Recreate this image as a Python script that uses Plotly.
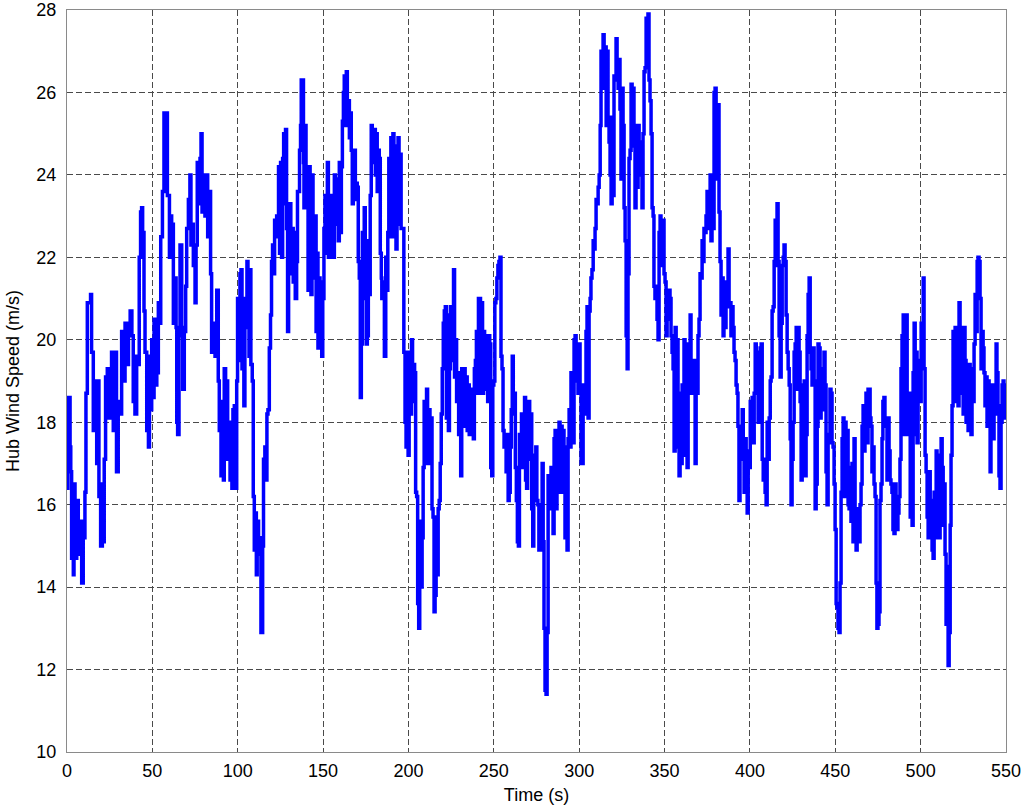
import plotly.graph_objects as go

# hub wind speed (m/s), as (time s, speed) pairs
seg_000_045 = [
    (0, 16.4), (0.5, 17.9), (1, 18.6), (1.8, 17.4), (2.2, 16.8), (2.7, 14.7), (3.7, 14.3), (4.1, 16.5),
    (4.7, 14.7), (5.7, 16.1), (6.6, 14.8), (7.6, 15.6), (8.6, 14.1), (9.5, 15.2), (10.5, 16.3), (11.1, 18.7),
    (11.9, 20.9), (13.8, 21.1), (14.4, 19.7), (15.4, 17.8), (16.4, 19.0), (17.4, 17.0), (18.0, 19.0), (18.7, 16.2),
    (19.7, 15.0), (20.7, 16.5), (21.3, 15.1), (21.8, 17.1), (22.6, 19.1), (23.6, 19.3), (24.6, 18.1), (25.2, 19.3),
    (26.1, 19.7), (27.1, 17.8), (28.1, 19.7), (29.0, 16.8), (30.0, 18.5), (31.0, 18.2), (32.0, 20.2), (33.0, 19.0),
    (34.0, 20.4), (35.0, 19.4), (36.0, 20.3), (37.0, 20.7), (38.0, 20.1), (38.8, 18.5), (39.8, 18.2), (40.8, 19.6),
    (41.7, 19.4), (42.3, 22.0), (43.1, 23.1), (43.7, 23.2), (44.3, 22.6),
]
seg_045_090 = [
    (45.1, 20.7), (45.7, 19.7), (46.7, 17.8), (47.7, 17.4), (48.3, 19.6), (49.0, 18.3), (49.6, 20.0), (50.2, 18.6),
    (51.0, 20.5), (51.6, 18.9), (52.6, 19.2), (53.5, 20.9), (54.5, 20.4), (54.9, 22.5), (55.9, 23.6), (56.8, 25.5),
    (58.0, 25.5), (58.8, 23.5), (60.0, 22.0), (60.4, 23.0), (61.3, 22.0), (61.7, 22.8), (62.3, 20.4), (63.3, 21.5),
    (63.9, 20.3), (64.3, 18.0), (64.8, 17.7), (65.6, 20.1), (66.2, 22.3), (67.2, 20.3), (67.8, 18.8), (68.7, 20.2),
    (69.5, 21.3), (70.1, 22.7), (71.1, 23.4), (72.0, 24.0), (72.6, 22.3), (73.4, 22.8), (74.0, 21.8), (75.0, 20.9),
    (75.6, 22.3), (76.3, 24.3), (76.9, 23.3), (77.9, 24.4), (78.5, 25.0), (79.1, 23.1), (79.9, 24.0), (80.8, 23.0),
    (81.4, 24.0), (82.4, 22.5), (83.2, 23.6), (84.1, 21.6), (84.7, 19.7), (85.3, 20.1), (86.1, 20.4), (86.7, 19.6),
    (87.7, 21.2), (88.6, 19.0), (89.2, 17.8),
]
seg_090_137 = [
    (89.6, 18.5), (90.2, 16.7), (91.0, 18.3), (91.6, 16.6), (92.1, 19.3), (92.9, 18.2), (93.5, 19.0), (94.1, 17.1),
    (94.9, 18.0), (95.5, 16.6), (96.0, 17.6), (96.6, 16.4), (97.2, 18.3), (98.0, 18.4), (98.8, 16.4), (99.4, 19.0),
    (99.9, 21.0), (100.7, 19.5), (101.3, 21.6), (101.9, 21.7), (102.5, 19.3), (103.3, 21.0), (103.6, 18.4), (104.2, 20.3),
    (104.8, 20.8), (105.4, 21.9), (106.0, 21.2), (106.6, 19.6), (107.2, 21.7), (107.7, 19.4), (108.5, 19.0), (109.1, 16.2),
    (109.7, 14.9), (110.3, 15.8), (110.9, 14.3), (111.4, 15.6), (112.2, 14.8), (113.0, 15.2), (113.6, 12.9), (114.2, 12.9),
    (114.6, 15.0), (115.1, 17.1), (115.9, 17.4), (116.5, 16.6), (117.1, 18.2), (117.7, 18.3), (118.5, 19.8), (119.2, 20.6),
    (119.8, 21.9), (120.4, 22.3), (121.0, 21.6), (121.6, 22.9), (122.2, 22.5), (122.8, 23.0), (123.3, 22.6), (123.9, 24.2),
    (124.5, 22.1), (125.1, 24.3), (125.7, 22.0), (126.3, 24.4), (126.9, 25.0), (127.4, 23.3), (128.0, 25.1), (128.6, 22.7),
    (129.2, 20.2), (129.8, 22.7), (130.6, 23.3), (131.1, 21.6), (131.7, 22.7), (132.5, 21.4), (133.1, 22.6), (133.7, 21.0),
    (134.5, 21.9), (135.0, 23.6), (135.6, 23.6), (136.2, 24.6), (136.8, 25.2), (137.2, 26.3),
]
seg_138_184 = [
    (138.5, 24.3), (138.8, 23.2), (139.4, 25.2), (140.0, 23.3), (140.6, 24.1), (141.2, 21.2), (141.8, 24.2), (142.4, 22.8),
    (142.9, 21.1), (143.5, 24.0), (144.1, 22.3), (144.7, 21.5), (145.3, 23.0), (145.9, 20.2), (146.4, 22.1), (147.0, 19.8),
    (147.6, 21.5), (148.2, 21.4), (148.6, 20.5), (149.2, 19.6), (149.8, 21.0), (150.5, 22.7), (151.1, 23.5), (151.7, 22.1),
    (152.5, 24.3), (153.1, 22.0), (153.7, 23.2), (154.2, 22.0), (154.8, 23.5), (155.4, 22.8), (156.0, 22.0), (156.6, 24.0),
    (157.2, 22.8), (157.8, 23.9), (158.3, 23.5), (158.9, 22.4), (159.5, 24.3), (160.1, 22.6), (160.7, 24.2), (161.3, 25.3),
    (161.9, 26.0), (162.4, 26.4), (163.0, 25.2), (163.6, 26.5), (164.2, 25.2), (164.8, 25.8), (165.4, 24.9), (165.9, 25.5),
    (166.5, 24.6), (167.1, 23.3), (167.7, 24.6), (168.3, 24.6), (168.9, 23.4), (169.5, 23.8), (170.0, 23.7), (170.6, 21.9),
    (171.2, 21.5), (171.8, 18.6), (172.4, 19.9), (173.0, 22.6), (173.6, 21.2), (174.1, 23.2), (174.7, 21.0), (175.3, 19.9),
    (175.9, 20.1), (176.5, 22.4), (177.1, 21.1), (177.6, 23.5), (178.2, 25.2), (178.8, 25.1), (179.4, 24.3), (180.0, 25.1),
    (180.6, 24.0), (181.2, 25.0), (181.7, 23.6), (182.3, 24.6), (182.9, 24.4), (183.5, 22.1), (184.1, 21.5),
]
seg_184_230 = [
    (184.4, 21.0), (185.4, 21.4), (185.9, 19.6), (186.7, 22.0), (187.3, 21.2), (187.9, 22.6), (188.5, 24.4), (189.1, 22.5),
    (189.7, 24.9), (190.3, 23.0), (190.9, 25.0), (191.5, 22.5), (192.1, 24.7), (192.7, 22.2), (193.3, 23.5), (193.9, 24.9),
    (194.5, 22.8), (195.1, 24.5), (195.7, 22.7), (196.5, 22.7), (197.3, 19.7), (198.0, 18.0), (198.6, 17.4), (199.2, 19.7),
    (199.8, 17.2), (200.4, 18.7), (201.2, 18.2), (201.8, 20.0), (202.4, 18.5), (203.0, 19.4), (203.6, 19.2), (204.2, 16.3),
    (204.8, 16.2), (205.4, 13.6), (206.0, 13.0), (206.6, 15.6), (207.4, 14.0), (208.0, 15.2), (208.6, 16.9), (209.2, 18.5),
    (210.0, 17.0), (210.6, 18.8), (211.2, 17.0), (212.0, 18.3), (212.6, 17.0), (213.2, 18.1), (213.8, 15.9), (214.4, 15.7),
    (215.0, 13.4), (215.6, 13.8), (216.2, 15.7), (216.8, 14.3), (217.4, 15.9), (218.0, 16.1), (218.6, 17.0), (219.2, 18.2),
    (219.8, 19.3), (220.4, 20.4), (221.0, 20.7), (221.6, 20.8), (222.2, 18.1), (222.8, 20.6), (223.4, 17.8), (224.0, 19.3),
    (224.6, 20.8), (225.2, 19.5), (225.8, 20.1), (226.4, 21.7), (227.0, 19.1), (227.6, 20.0), (228.2, 18.5), (228.8, 19.2),
    (229.4, 17.7), (230.0, 18.9),
]
seg_230_277 = [
    (230.6, 16.7), (231.2, 19.3), (231.8, 17.9), (232.6, 19.3), (233.2, 18.8), (233.8, 19.1), (234.4, 17.8), (235.0, 18.9),
    (235.6, 17.7), (236.2, 18.8), (236.8, 17.7), (237.4, 18.7), (238.0, 17.6), (238.6, 19.3), (239.2, 19.5), (239.8, 20.2),
    (240.4, 18.7), (241.0, 21.0), (241.6, 21.0), (242.2, 18.7), (242.8, 20.9), (243.4, 18.7), (244.0, 20.2), (244.6, 18.8),
    (245.2, 20.1), (245.8, 20.0), (246.4, 18.5), (247.0, 20.1), (247.6, 19.9), (248.2, 16.9), (248.8, 16.7), (249.4, 18.9),
    (250.0, 19.0), (250.6, 20.9), (251.2, 21.0), (251.8, 21.5), (252.4, 21.8), (253.0, 21.9), (253.6, 22.0), (254.2, 19.6),
    (254.8, 19.3), (255.4, 17.8), (256.0, 17.4), (256.6, 17.4), (257.2, 16.8), (257.8, 17.7), (258.4, 16.1), (259.0, 16.3),
    (259.6, 17.4), (260.2, 18.3), (260.8, 19.6), (261.4, 18.2), (262.0, 18.7), (262.6, 16.9), (263.2, 16.1), (263.8, 15.1),
    (264.4, 15.0), (265.0, 17.7), (265.6, 17.6), (266.2, 18.2), (266.8, 16.9), (267.4, 17.7), (268.0, 18.6), (268.6, 16.6),
    (269.2, 16.4), (269.8, 18.5), (270.4, 18.5), (271.0, 17.1), (271.6, 18.2), (272.2, 15.9), (272.8, 15.0), (273.4, 17.2),
    (274.0, 16.8), (274.6, 17.4), (275.2, 16.1), (275.8, 16.0), (276.4, 14.9), (277.0, 14.9),
]
seg_277_308 = [
    (277.7, 15.3), (278.3, 17.0), (278.9, 15.1), (279.4, 13.0), (280.0, 11.5), (280.6, 11.4), (281.2, 12.9), (281.8, 16.7),
    (282.4, 15.9), (283.0, 16.7), (283.5, 16.9), (284.1, 16.0), (284.7, 15.3), (285.3, 17.6), (285.9, 17.8), (286.5, 15.9),
    (287.0, 17.7), (287.6, 16.3), (288.2, 18.0), (288.8, 16.4), (289.4, 17.9), (290.0, 16.3), (290.6, 17.8), (291.1, 17.4),
    (291.7, 15.2), (292.3, 17.2), (292.9, 14.9), (293.5, 17.6), (294.1, 18.3), (294.6, 17.4), (295.2, 19.2), (295.8, 19.2),
    (296.4, 17.5), (297.0, 20.0), (297.6, 20.1), (298.2, 19.9), (298.7, 19.0), (299.3, 18.7), (299.9, 19.9), (300.5, 18.9),
    (301.1, 17.0), (301.7, 17.0), (302.3, 18.9), (302.8, 18.7), (303.4, 18.2), (304.0, 20.2), (304.6, 20.8), (305.2, 18.1),
    (305.8, 20.7), (306.4, 21.0), (306.9, 21.5), (307.5, 21.7),
]
seg_308_354 = [
    (308.2, 22.4), (308.7, 22.2), (309.3, 22.7), (309.9, 23.4), (310.5, 23.3), (311.1, 23.7), (311.7, 24.0), (312.3, 25.2),
    (312.8, 27.0), (313.4, 27.0), (314.0, 27.4), (314.6, 26.1), (315.2, 27.1), (315.8, 25.2), (316.3, 27.0), (316.9, 25.4),
    (317.5, 24.8), (318.1, 24.0), (318.7, 23.3), (319.3, 25.4), (319.9, 23.5), (320.4, 26.4), (321.0, 26.3), (321.6, 27.3),
    (322.2, 26.6), (322.8, 26.1), (323.4, 26.8), (323.9, 25.6), (324.5, 23.9), (325.1, 26.1), (325.7, 25.2), (326.3, 23.2),
    (326.9, 22.4), (327.5, 20.1), (328.1, 19.3), (328.6, 21.6), (329.2, 24.4), (329.8, 24.6), (330.4, 26.2), (331.0, 25.4),
    (331.6, 26.1), (332.1, 24.7), (332.7, 23.2), (333.3, 25.2), (333.9, 23.7), (334.5, 25.2), (335.1, 24.4), (335.7, 24.0),
    (336.2, 24.8), (336.8, 23.2), (337.4, 25.0), (338.0, 26.5), (338.6, 26.6), (339.2, 27.8), (339.7, 27.8), (340.3, 27.9),
    (340.9, 26.3), (341.5, 25.8), (342.1, 25.0), (342.7, 23.2), (343.3, 23.0), (343.8, 21.3), (344.4, 21.0), (345.0, 21.3),
    (345.6, 20.5), (346.2, 20.0), (346.8, 22.6), (347.4, 23.0), (347.9, 21.8), (348.5, 22.9), (349.1, 22.9), (349.7, 21.6),
    (350.3, 21.4), (350.9, 20.1), (351.5, 20.5), (352.0, 21.2), (352.6, 21.2), (353.2, 21.0), (353.8, 20.1), (354.4, 19.7),
]
seg_355_394 = [
    (355.0, 19.3), (355.6, 17.3), (356.2, 20.3), (356.8, 17.4), (357.3, 20.0), (357.9, 18.0), (358.5, 16.7), (359.1, 18.7),
    (359.7, 17.0), (360.3, 18.9), (360.9, 17.9), (361.4, 20.0), (362.0, 17.2), (362.6, 19.3), (363.2, 16.9), (363.8, 19.9),
    (364.4, 19.5), (365.0, 20.6), (365.5, 18.7), (366.1, 19.4), (366.7, 18.7), (367.3, 19.5), (367.9, 17.0), (368.5, 18.9),
    (369.1, 18.7), (369.6, 20.1), (370.2, 20.5), (370.8, 21.6), (371.4, 21.5), (372.0, 22.4), (372.6, 21.9), (373.1, 22.7),
    (373.7, 22.6), (374.3, 23.0), (374.9, 23.6), (375.5, 22.7), (376.1, 23.6), (376.7, 24.0), (377.2, 22.4), (377.8, 23.7),
    (378.4, 22.7), (379.0, 26.0), (379.6, 26.1), (380.2, 25.7), (380.7, 23.9), (381.3, 25.7), (381.9, 23.1), (382.5, 21.9),
    (383.1, 20.6), (383.7, 21.5), (384.3, 20.1), (384.8, 21.4), (385.4, 20.3), (386.0, 21.2), (386.6, 21.2), (387.2, 22.2),
    (387.8, 20.8), (388.4, 20.9), (388.9, 20.1), (389.5, 20.8), (390.1, 20.3), (390.7, 19.7), (391.3, 19.5), (391.9, 18.9),
    (392.5, 18.7), (393.0, 17.9), (393.6, 16.1), (394.2, 17.1),
]
seg_395_442 = [
    (395.5, 18.3), (396.1, 17.6), (396.6, 16.3), (397.2, 17.6), (397.8, 16.8), (398.4, 15.8), (399.0, 17.3), (399.6, 16.9),
    (400.2, 18.5), (400.7, 17.5), (401.3, 18.6), (401.9, 17.5), (402.5, 18.7), (403.1, 19.9), (403.7, 18.8), (404.2, 19.7),
    (404.8, 18.0), (405.4, 18.1), (406.0, 19.8), (406.6, 19.9), (407.2, 17.1), (407.8, 16.6), (408.3, 17.1), (408.9, 16.3),
    (409.5, 16.0), (410.1, 18.0), (410.7, 17.1), (411.3, 18.1), (411.9, 19.0), (412.4, 19.1), (413.0, 20.7), (413.6, 20.8),
    (414.2, 21.9), (414.8, 22.9), (415.4, 21.8), (415.9, 23.3), (416.5, 21.9), (417.1, 20.1), (417.7, 19.1), (418.3, 20.4),
    (418.9, 21.8), (419.5, 22.0), (420.0, 22.3), (420.6, 21.9), (421.2, 20.6), (421.8, 19.7), (422.4, 19.3), (423.0, 18.9),
    (423.6, 17.6), (424.1, 16.0), (424.7, 17.1), (425.3, 18.0), (425.9, 19.7), (426.5, 19.9), (427.1, 20.3), (427.7, 18.8),
    (428.2, 20.3), (428.8, 19.7), (429.4, 18.5), (430.0, 16.6), (430.6, 17.2), (431.2, 18.9), (431.8, 19.0), (432.3, 16.7),
    (432.9, 17.7), (433.5, 20.1), (434.1, 21.1), (434.7, 21.5), (435.3, 19.7), (435.8, 19.3), (436.4, 18.9), (437.0, 19.8),
    (437.6, 19.0), (438.2, 15.9), (438.8, 16.5), (439.4, 17.9), (439.9, 19.9), (440.5, 19.8), (441.1, 18.1), (441.7, 19.3),
    (442.3, 18.7),
]
seg_443_489 = [
    (442.9, 18.3), (443.4, 19.7), (444.0, 18.9), (444.6, 16.8), (445.2, 16.0), (445.8, 17.7), (446.4, 17.5), (446.9, 18.8),
    (447.5, 18.7), (448.1, 17.5), (448.7, 17.4), (449.3, 16.5), (449.9, 15.4), (450.5, 13.6), (451.0, 13.5), (451.6, 13.0),
    (452.2, 12.9), (452.8, 14.1), (453.4, 16.3), (454.0, 17.6), (454.6, 18.1), (455.1, 16.2), (455.7, 18.0), (456.3, 16.3),
    (456.9, 17.8), (457.5, 16.0), (458.1, 15.9), (458.7, 16.9), (459.2, 15.6), (459.8, 17.0), (460.4, 15.1), (461.0, 17.6),
    (461.6, 15.1), (462.2, 14.9), (462.8, 15.3), (463.3, 15.9), (463.9, 15.1), (464.5, 16.0), (465.1, 16.5), (465.7, 17.9),
    (466.3, 18.4), (466.8, 17.3), (467.4, 18.3), (468.0, 18.7), (468.6, 17.5), (469.2, 18.8), (469.8, 18.8), (470.4, 18.1),
    (470.9, 17.9), (471.5, 16.8), (472.1, 17.4), (472.7, 16.5), (473.3, 16.2), (473.9, 14.1), (474.4, 13.0), (475.0, 13.1),
    (475.6, 13.4), (476.2, 16.1), (476.8, 16.5), (477.4, 17.6), (477.9, 18.5), (478.5, 18.6), (479.1, 17.9), (479.7, 18.1),
    (480.3, 16.6), (480.9, 18.1), (481.5, 17.3), (482.1, 16.6), (482.6, 16.5), (483.2, 16.3), (483.8, 15.4), (484.4, 15.3),
    (485.0, 16.5), (485.6, 16.2), (486.1, 15.4), (486.7, 15.8), (487.3, 16.2), (487.9, 17.1), (488.5, 19.3), (489.1, 20.1),
]
seg_490_550 = [
    (489.8, 20.6), (490.3, 17.7), (490.9, 20.6), (491.5, 20.6), (492.1, 18.5), (492.7, 17.7), (493.3, 18.7), (493.9, 15.7),
    (494.4, 17.7), (495.0, 15.5), (495.6, 19.2), (496.2, 20.4), (496.8, 17.7), (497.4, 19.7), (497.9, 17.5), (498.5, 18.6),
    (499.1, 19.5), (499.7, 18.5), (500.3, 20.4), (500.9, 19.7), (501.5, 21.5), (502.0, 19.3), (502.6, 17.2), (503.2, 16.8),
    (503.8, 15.7), (504.4, 15.2), (505.0, 16.8), (505.6, 15.2), (506.1, 16.1), (506.7, 14.9), (507.3, 14.7), (507.9, 16.3),
    (508.5, 15.7), (509.1, 17.3), (509.6, 15.2), (510.2, 17.2), (510.8, 15.2), (511.4, 17.2), (512.0, 17.6), (512.6, 16.9),
    (513.2, 15.5), (513.7, 16.5), (514.3, 14.8), (514.9, 13.1), (515.5, 14.5), (516.1, 12.1), (516.7, 12.9), (517.3, 15.5),
    (517.8, 17.2), (518.4, 18.4), (519.0, 20.2), (519.6, 18.5), (520.2, 20.3), (520.8, 18.9), (521.3, 20.3), (521.9, 18.4),
    (522.5, 20.9), (523.1, 20.3), (523.7, 18.7), (524.3, 20.2), (524.9, 18.2), (525.4, 20.3), (526.0, 19.5), (526.6, 18.0),
    (527.2, 19.3), (527.8, 17.8), (528.4, 19.4), (529.0, 19.0), (529.5, 17.7), (530.1, 19.3), (530.7, 18.5), (531.3, 19.9),
    (531.9, 21.1), (532.5, 20.2), (533.1, 21.9), (533.6, 22.0), (534.2, 21.9), (534.8, 21.0), (535.4, 19.3), (536.0, 20.2),
    (536.6, 19.8), (537.1, 19.2), (537.7, 18.4), (538.3, 19.1), (538.9, 17.9), (539.5, 19.0), (540.1, 18.4), (540.7, 16.8),
    (541.2, 18.4), (541.8, 18.9), (542.4, 17.6), (543.0, 18.8), (543.6, 18.2), (544.2, 19.9), (544.7, 19.2), (545.3, 18.4),
    (545.9, 16.7), (546.5, 16.4), (547.1, 18.0), (547.7, 18.9), (548.3, 19.0), (548.8, 18.1), (549.4, 18.9), (550.0, 18.6),
]

segments = [seg_000_045, seg_045_090, seg_090_137, seg_138_184, seg_184_230, seg_230_277,
            seg_277_308, seg_308_354, seg_355_394, seg_395_442, seg_443_489, seg_490_550]
time_s = [p[0] for seg in segments for p in seg]
speed = [p[1] for seg in segments for p in seg]

fig = go.Figure()
fig.add_trace(go.Scatter(x=time_s, y=speed, mode='lines', line=dict(color='#0000FF', width=3.5, shape='hv'),
                         showlegend=False, cliponaxis=True))

font = dict(family='Arial, Liberation Sans, sans-serif', size=18, color='#000000')
axis_common = dict(showgrid=True, gridcolor='#4a4a4a', gridwidth=1, griddash='6px,3px',
                   showline=True, linecolor='#8a8a8a', linewidth=1, mirror=True,
                   ticks='', zeroline=False, tickfont=font, automargin=False)

fig.update_xaxes(range=[0, 550], dtick=50, tick0=0, ticklabelstandoff=2,
                 title=dict(text='Time (s)', font=font, standoff=8), **axis_common)
fig.update_yaxes(range=[10, 28], dtick=2, tick0=10, ticklabelstandoff=6,
                 title=dict(text='Hub Wind Speed (m/s)', font=font, standoff=12), **axis_common)

fig.update_layout(width=1024, height=810, paper_bgcolor='white', plot_bgcolor='white',
                  margin=dict(l=67, r=18, t=10, b=58), font=font)

# drop the default page margin so the figure sits at the window's corner
fig.write_html("out.html", config={'displayModeBar': False},
               post_script="document.body.style.margin='0'; document.body.style.overflow='hidden';")
